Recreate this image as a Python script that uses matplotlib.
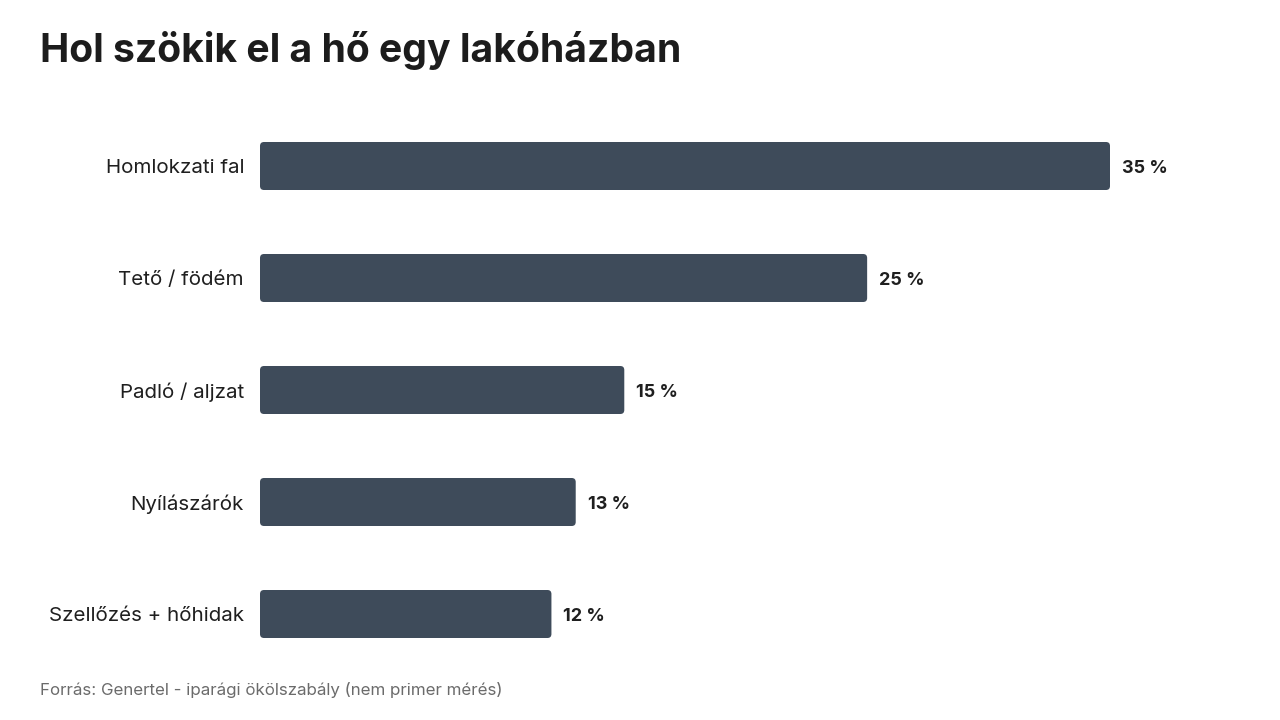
import matplotlib
matplotlib.use("Agg")
import matplotlib.pyplot as plt
from matplotlib.patches import FancyBboxPatch

categories = ["Homlokzati fal", "Tető / födém", "Padló / aljzat", "Nyílászárók", "Szellőzés + hőhidak"]
values = [35, 25, 15, 13, 12]
value_labels = ["35 %", "25 %", "15 %", "13 %", "12 %"]
title = "Hol szökik el a hő egy lakóházban"
source = "Forrás: Genertel - iparági ökölszabály (nem primer mérés)"

FONT = ["Inter", "DejaVu Sans"]
plt.rcParams["font.family"] = FONT

W, H = 1280, 720
fig = plt.figure(figsize=(12.8, 7.2), dpi=100)
fig.patch.set_facecolor("white")

ax_left, ax_right = 260, 1110
ax_top, ax_bottom = 110, 670
ax = fig.add_axes([ax_left / W, 1 - ax_bottom / H, (ax_right - ax_left) / W, (ax_bottom - ax_top) / H])
ax.set_xlim(0, 35)
ax.set_ylim(len(categories) - 0.5, -0.5)
ax.axis("off")

bar_color = "#3e4b5a"
bar_h = 48 / 112
px_x = 35 / (ax_right - ax_left)
px_y = len(categories) / (ax_bottom - ax_top)
radius_px = 4

bars = ax.barh(range(len(categories)), values, height=bar_h, color=bar_color)
for b in bars:
    x, y = b.get_x(), b.get_y()
    w, h = b.get_width(), b.get_height()
    b.remove()
    p = FancyBboxPatch((x, y), w, h,
                       boxstyle=f"round,pad=0,rounding_size={radius_px * px_x}",
                       mutation_aspect=px_y / px_x,
                       facecolor=bar_color, edgecolor="none")
    ax.add_patch(p)

for i, (cat, v, lab) in enumerate(zip(categories, values, value_labels)):
    ax.text(-16 * px_x, i + 2 * px_y, cat, ha="right", va="center", fontsize=14.8,
            color="#1f1f1f", clip_on=False)
    ax.text(v + 12 * px_x, i + 2.5 * px_y, lab, ha="left", va="center", fontsize=13,
            fontweight="bold", color="#1f1f1f", clip_on=False)

fig.text(40 / W, 1 - 51 / H, title, ha="left", va="center", fontsize=28.2,
         fontweight="bold", color="#1c1c1c")
fig.text(40 / W, 1 - 690 / H, source, ha="left", va="center", fontsize=12.2,
         color="#6b6b6b")

fig.savefig("out.png", dpi=100, facecolor="white")
